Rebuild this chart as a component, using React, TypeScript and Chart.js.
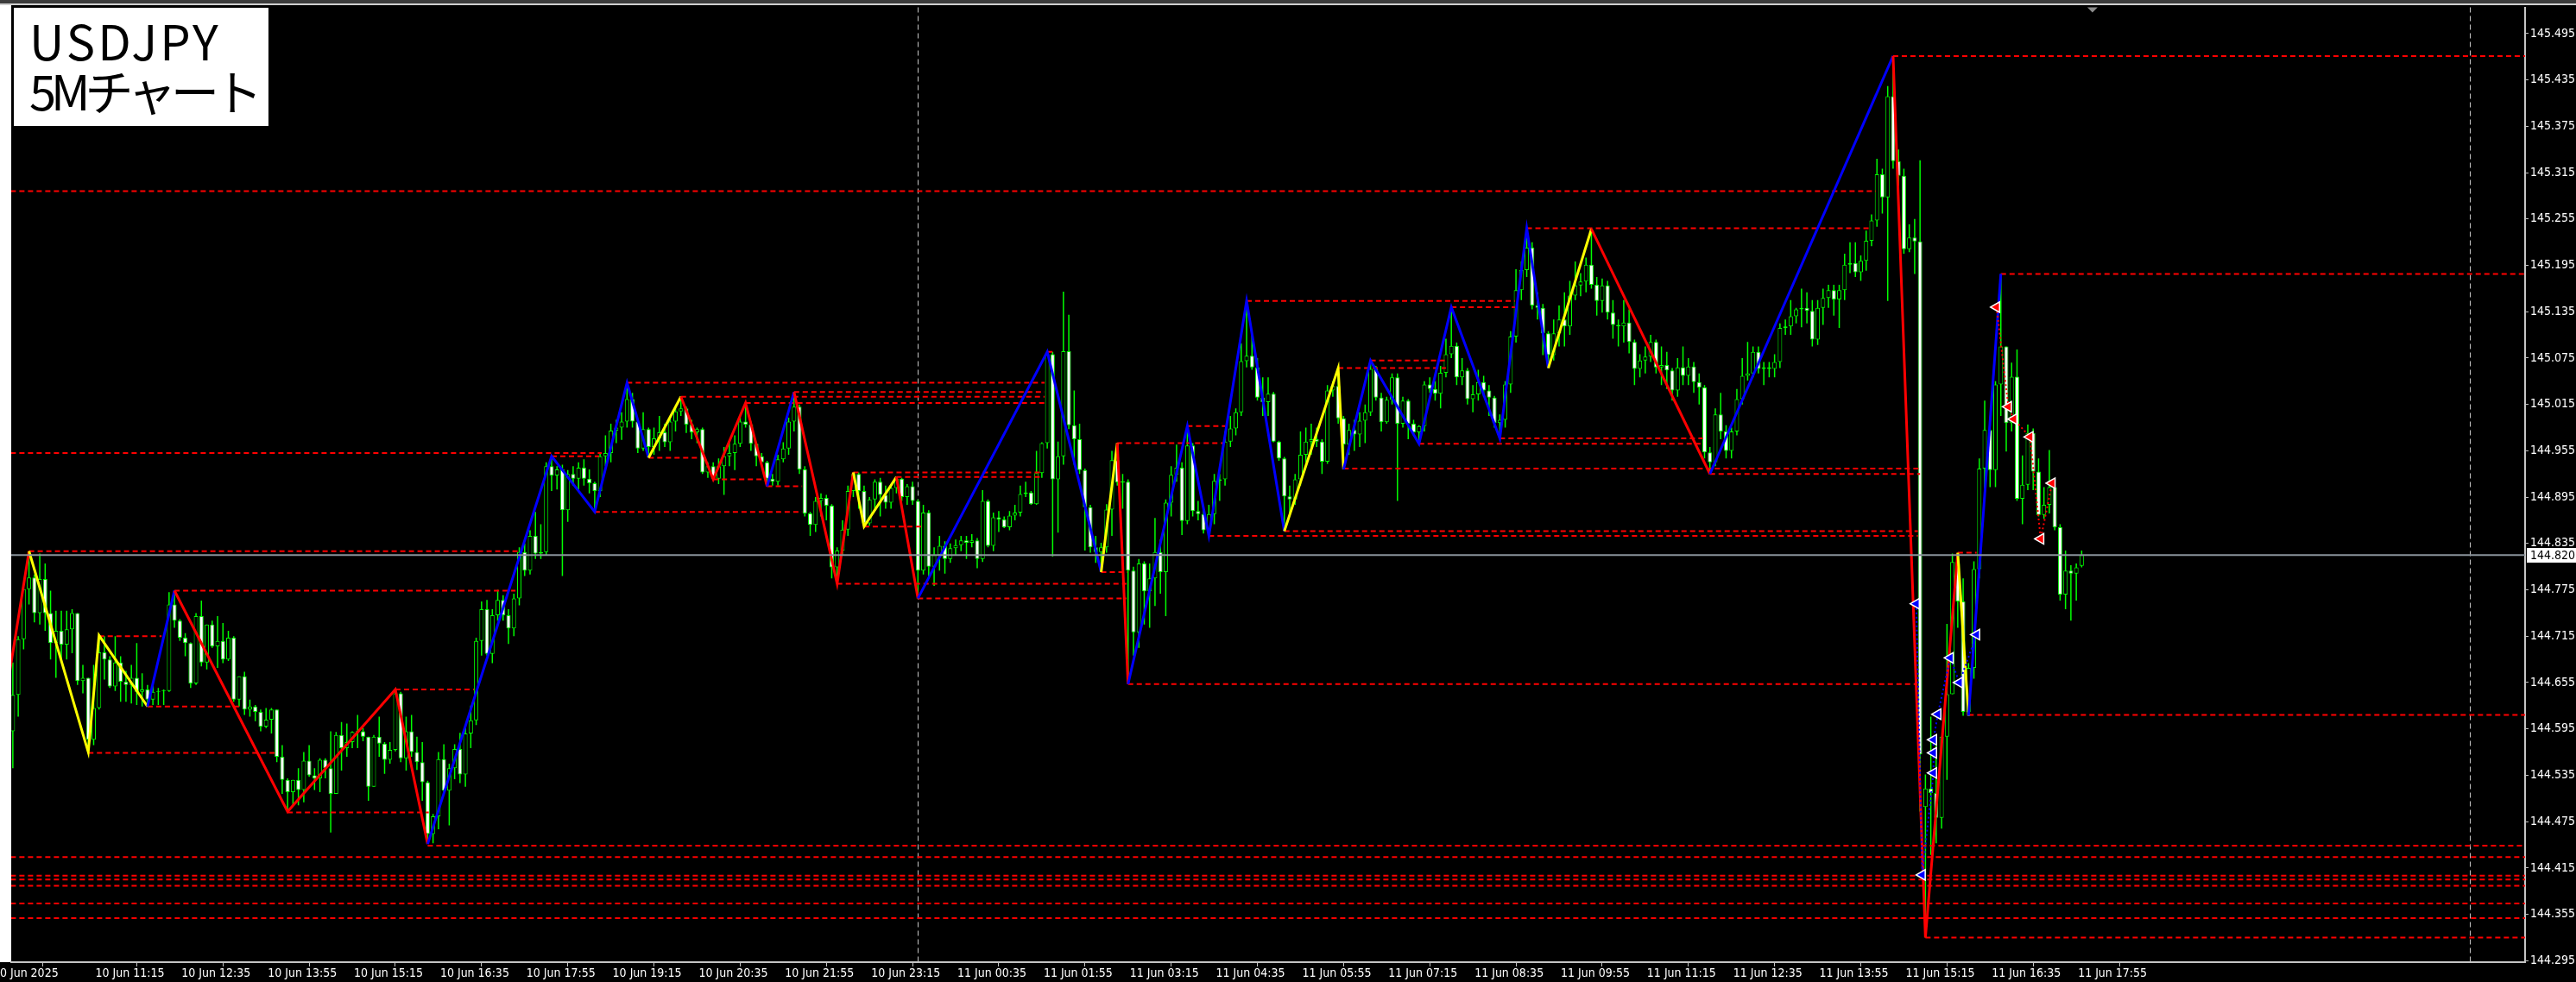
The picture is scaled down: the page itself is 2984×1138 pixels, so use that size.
import React, { useEffect, useRef } from "react";
import { Chart, registerables } from "chart.js";

Chart.register(...registerables);

const CANVAS_W = 2984;
const CANVAS_H = 1138;

// ---- USDJPY 5M candles, bar 0 = 10 Jun 10:00, bar 384 = 11 Jun 18:00 ----
const opens = [
  144.592,144.639,144.711,144.776,144.791,144.745,144.789,144.745,144.706,144.722,
  144.704,144.724,144.745,144.657,144.661,144.581,144.622,144.694,144.685,144.650,
  144.681,144.656,144.652,144.661,144.643,144.646,144.633,144.643,144.644,144.644,
  144.756,144.735,144.713,144.706,144.654,144.741,144.681,144.730,144.702,144.709,
  144.685,144.713,144.633,144.663,144.620,144.624,144.617,144.598,144.607,144.620,
  144.559,144.529,144.513,144.529,144.516,144.554,144.535,144.531,144.555,144.544,
  144.511,144.587,144.570,144.578,144.591,144.592,144.585,144.520,144.585,144.576,
  144.555,144.568,144.641,144.557,144.592,144.565,144.552,144.526,144.459,144.482,
  144.556,144.515,144.544,144.569,144.536,144.589,144.606,144.709,144.750,144.692,
  144.742,144.762,144.742,144.725,144.764,144.824,144.800,144.845,144.822,144.824,
  144.935,144.923,144.931,144.878,144.925,144.919,144.933,144.919,144.913,144.903,
  144.948,144.952,144.981,144.985,144.993,145.022,144.993,144.958,144.983,144.960,
  144.971,144.979,144.966,144.993,145.006,145.010,144.989,144.979,144.983,144.927,
  144.935,144.919,144.935,144.948,144.952,144.964,144.993,144.989,144.964,144.948,
  144.940,144.919,144.915,144.944,144.958,144.993,145.012,144.931,144.874,144.859,
  144.890,144.894,144.884,144.804,144.826,144.853,144.903,144.925,144.903,144.861,
  144.892,144.915,144.898,144.888,144.907,144.919,144.895,144.909,144.890,144.800,
  144.875,144.805,144.820,144.832,144.815,144.829,144.833,144.839,144.836,144.839,
  144.815,144.890,144.832,144.869,144.866,144.856,144.871,144.875,144.899,144.901,
  144.886,144.926,144.965,145.080,144.918,144.948,145.084,144.988,144.970,144.930,
  144.882,144.830,144.824,144.830,144.879,144.943,144.914,144.915,144.800,144.720,
  144.809,144.773,144.790,144.824,144.798,144.888,144.924,144.933,144.864,144.962,
  144.877,144.873,144.852,144.873,144.916,144.918,144.967,144.984,145.005,145.071,
  145.078,145.063,145.024,145.018,145.029,144.967,144.945,144.896,144.892,144.918,
  144.950,144.967,144.970,144.967,144.941,145.033,145.039,144.997,144.963,144.982,
  144.976,144.994,145.005,145.061,145.024,144.992,145.021,145.050,144.990,145.020,
  144.990,144.979,144.987,145.041,145.035,145.029,145.056,145.080,145.091,145.050,
  145.059,145.022,145.028,145.044,145.033,145.024,144.991,144.995,145.041,145.103,
  145.163,145.189,145.218,145.143,145.140,145.107,145.079,145.107,145.125,145.116,
  145.156,145.169,145.174,145.196,145.170,145.149,145.169,145.134,145.118,145.116,
  145.121,145.096,145.061,145.072,145.077,145.096,145.063,145.066,145.059,145.033,
  145.063,145.052,145.064,145.044,145.037,144.953,144.940,145.002,144.980,144.955,
  144.980,145.022,145.052,145.055,145.083,145.061,145.063,145.061,145.070,145.114,
  145.116,145.129,145.138,145.140,145.136,145.099,145.140,145.153,145.163,145.151,
  145.163,145.196,145.198,145.186,145.201,145.227,145.253,145.313,145.283,145.414,
  145.330,145.311,145.216,145.231,145.226,144.494,144.518,144.512,144.480,144.585,
  144.640,144.811,144.760,144.617,144.674,144.802,144.932,144.982,144.930,145.041,
  145.090,144.991,145.051,144.893,144.911,144.978,144.928,144.872,144.885,144.908,
  144.856,144.769,144.800,144.796,144.806,
];
const highs = [
  144.681,144.715,144.778,144.824,144.795,144.822,144.809,144.774,144.748,144.748,
  144.748,144.750,144.745,144.678,144.661,144.678,144.716,144.715,144.689,144.715,
  144.689,144.670,144.678,144.706,144.667,144.652,144.652,144.648,144.646,144.772,
  144.774,144.737,144.719,144.707,144.745,144.761,144.730,144.735,144.741,144.732,
  144.722,144.715,144.663,144.669,144.633,144.626,144.620,144.622,144.622,144.620,
  144.574,144.531,144.529,144.544,144.565,144.574,144.544,144.557,144.557,144.592,
  144.591,144.604,144.602,144.592,144.613,144.596,144.585,144.587,144.611,144.578,
  144.578,144.646,144.643,144.611,144.613,144.585,144.578,144.528,144.485,144.565,
  144.575,144.550,144.575,144.590,144.600,144.625,144.713,144.760,144.762,144.750,
  144.775,144.768,144.750,144.770,144.830,144.835,144.852,144.876,144.860,144.940,
  144.948,144.935,144.937,144.930,144.935,144.940,144.944,144.931,144.915,144.952,
  144.975,144.990,144.995,145.005,145.043,145.030,144.995,145.005,144.985,144.985,
  145.000,144.990,145.000,145.012,145.025,145.012,144.995,144.985,144.985,144.940,
  144.940,144.945,144.960,144.965,144.975,145.000,145.017,144.993,144.966,144.952,
  144.942,144.925,144.950,144.966,144.998,145.031,145.015,144.935,144.876,144.895,
  144.900,144.898,144.886,144.830,144.865,144.910,144.927,144.927,144.910,144.895,
  144.918,144.920,144.910,144.912,144.921,144.920,144.912,144.915,144.892,144.885,
  144.878,144.830,144.845,144.838,144.835,144.840,144.845,144.845,144.847,144.842,
  144.904,144.892,144.875,144.877,144.870,144.877,144.885,144.910,144.915,144.903,
  144.955,144.966,145.083,145.083,144.967,145.161,145.131,145.033,144.990,144.932,
  144.885,144.845,144.836,144.886,144.955,144.965,144.925,144.918,144.805,144.815,
  144.812,144.809,144.868,144.840,144.892,144.935,144.963,144.940,144.987,144.965,
  144.890,144.880,144.885,144.925,144.925,144.980,145.000,145.010,145.094,145.149,
  145.105,145.075,145.050,145.050,145.031,144.968,144.947,144.910,144.925,144.980,
  144.985,144.990,144.985,144.970,145.040,145.045,145.062,145.000,144.990,144.995,
  145.005,145.015,145.072,145.065,145.030,145.025,145.055,145.055,145.025,145.022,
  144.995,144.988,145.045,145.050,145.045,145.065,145.100,145.141,145.095,145.075,
  145.062,145.040,145.060,145.052,145.040,145.026,145.002,145.045,145.110,145.190,
  145.200,145.243,145.225,145.160,145.145,145.110,145.125,145.143,145.160,145.175,
  145.200,145.185,145.205,145.242,145.180,145.178,145.175,145.150,145.125,145.150,
  145.138,145.099,145.080,145.090,145.105,145.099,145.090,145.083,145.062,145.075,
  145.090,145.075,145.070,145.055,145.040,144.960,145.010,145.030,144.988,144.985,
  145.035,145.075,145.096,145.090,145.090,145.070,145.070,145.080,145.120,145.125,
  145.150,145.140,145.165,145.160,145.150,145.150,145.165,145.170,145.170,145.170,
  145.210,145.225,145.225,145.208,145.240,145.261,145.333,145.320,145.427,145.466,
  145.345,145.320,145.248,145.255,145.331,144.536,144.611,144.585,144.585,144.731,
  144.822,144.823,144.790,144.680,144.812,144.945,145.020,144.985,145.045,145.184,
  145.090,145.069,145.086,144.949,144.989,144.984,144.945,144.908,144.956,144.913,
  144.860,144.826,144.807,144.809,144.826,
];
const lows = [
  144.544,144.611,144.698,144.756,144.733,144.730,144.722,144.685,144.661,144.681,
  144.685,144.693,144.652,144.641,144.565,144.574,144.620,144.659,144.648,144.644,
  144.630,144.630,144.628,144.626,144.624,144.624,144.626,144.626,144.626,144.643,
  144.726,144.709,144.689,144.648,144.652,144.676,144.672,144.700,144.674,144.680,
  144.683,144.630,144.624,144.613,144.611,144.605,144.592,144.596,144.589,144.552,
  144.511,144.488,144.496,144.496,144.500,144.533,144.516,144.513,144.531,144.461,
  144.511,144.541,144.559,144.570,144.570,144.579,144.502,144.520,144.559,144.537,
  144.550,144.566,144.552,144.541,144.559,144.542,144.502,144.446,144.447,144.465,
  144.510,144.470,144.530,144.525,144.520,144.570,144.600,144.690,144.690,144.680,
  144.735,144.735,144.705,144.715,144.755,144.793,144.795,144.815,144.815,144.820,
  144.903,144.905,144.793,144.863,144.910,144.905,144.910,144.900,144.876,144.895,
  144.935,144.940,144.965,144.969,144.985,144.985,144.952,144.955,144.946,144.950,
  144.955,144.960,144.955,144.980,145.000,144.978,144.970,144.965,144.925,144.920,
  144.918,144.912,144.898,144.935,144.930,144.960,144.985,144.955,144.935,144.935,
  144.909,144.910,144.910,144.940,144.950,144.980,144.925,144.870,144.845,144.850,
  144.870,144.865,144.790,144.783,144.820,144.845,144.895,144.880,144.857,144.858,
  144.880,144.870,144.880,144.880,144.900,144.890,144.885,144.885,144.764,144.795,
  144.790,144.780,144.800,144.796,144.810,144.820,144.825,144.815,144.830,144.803,
  144.811,144.830,144.825,144.850,144.855,144.852,144.865,144.870,144.895,144.885,
  144.885,144.920,144.958,144.818,144.849,144.937,144.983,144.937,144.925,144.826,
  144.823,144.810,144.798,144.823,144.845,144.910,144.880,144.653,144.690,144.700,
  144.730,144.726,144.754,144.770,144.741,144.870,144.915,144.846,144.860,144.870,
  144.865,144.848,144.845,144.860,144.890,144.910,144.960,144.975,145.000,145.063,
  145.060,145.020,145.000,145.000,144.966,144.942,144.851,144.870,144.885,144.910,
  144.940,144.950,144.960,144.925,144.938,145.025,144.990,144.931,144.950,144.955,
  144.960,144.965,145.000,145.020,144.980,144.990,145.015,144.890,144.985,144.970,
  144.975,144.964,144.980,145.030,145.020,145.010,145.050,145.075,145.040,145.040,
  145.015,145.005,145.020,145.025,145.000,144.985,144.971,144.985,145.030,145.095,
  145.150,145.180,145.138,145.125,145.079,145.062,145.072,145.090,145.090,145.105,
  145.150,145.155,145.160,145.165,145.130,145.134,145.125,145.100,145.090,145.095,
  145.081,145.040,145.050,145.055,145.070,145.055,145.040,145.035,145.020,145.025,
  145.040,145.040,145.030,145.015,144.945,144.925,144.935,144.970,144.945,144.945,
  144.975,145.015,145.046,145.050,145.055,145.040,145.050,145.050,145.062,145.105,
  145.105,145.120,145.115,145.120,145.090,145.092,145.118,145.140,145.130,145.114,
  145.150,145.185,145.180,145.175,145.188,145.220,145.245,145.262,145.149,145.320,
  145.279,145.210,145.212,145.184,144.488,144.325,144.432,144.447,144.466,144.529,
  144.640,144.726,144.612,144.612,144.660,144.790,144.900,144.908,144.908,145.000,
  144.954,144.980,144.890,144.860,144.904,144.904,144.870,144.867,144.874,144.852,
  144.761,144.750,144.735,144.761,144.804,
];
const closes = [
  144.639,144.711,144.776,144.791,144.745,144.789,144.745,144.706,144.722,144.704,
  144.724,144.745,144.657,144.661,144.581,144.622,144.694,144.685,144.650,144.681,
  144.656,144.652,144.661,144.643,144.646,144.633,144.643,144.644,144.644,144.756,
  144.735,144.713,144.706,144.654,144.741,144.681,144.730,144.702,144.709,144.685,
  144.713,144.633,144.663,144.620,144.624,144.617,144.598,144.607,144.620,144.559,
  144.529,144.513,144.529,144.516,144.554,144.535,144.531,144.555,144.544,144.511,
  144.587,144.570,144.578,144.591,144.592,144.585,144.520,144.585,144.576,144.555,
  144.568,144.641,144.557,144.592,144.565,144.552,144.526,144.459,144.482,144.556,
  144.515,144.544,144.569,144.536,144.589,144.606,144.709,144.750,144.692,144.742,
  144.762,144.742,144.725,144.764,144.824,144.800,144.845,144.822,144.824,144.935,
  144.923,144.931,144.878,144.925,144.919,144.933,144.919,144.913,144.903,144.948,
  144.952,144.981,144.985,144.993,145.022,144.993,144.958,144.983,144.960,144.971,
  144.979,144.966,144.993,145.006,145.010,144.989,144.979,144.983,144.927,144.935,
  144.919,144.935,144.948,144.952,144.964,144.993,144.989,144.964,144.948,144.940,
  144.919,144.915,144.944,144.958,144.993,145.012,144.931,144.874,144.859,144.890,
  144.894,144.884,144.804,144.826,144.853,144.903,144.925,144.903,144.861,144.892,
  144.915,144.898,144.888,144.907,144.919,144.895,144.909,144.890,144.800,144.875,
  144.805,144.820,144.832,144.815,144.829,144.833,144.839,144.836,144.839,144.815,
  144.890,144.832,144.869,144.866,144.856,144.871,144.875,144.899,144.901,144.886,
  144.926,144.965,145.080,144.918,144.948,145.084,144.988,144.970,144.930,144.882,
  144.830,144.824,144.830,144.879,144.943,144.914,144.915,144.800,144.720,144.809,
  144.773,144.790,144.824,144.798,144.888,144.924,144.933,144.864,144.962,144.877,
  144.873,144.852,144.873,144.916,144.918,144.967,144.984,145.005,145.071,145.078,
  145.063,145.024,145.018,145.029,144.967,144.945,144.896,144.892,144.918,144.950,
  144.967,144.970,144.967,144.941,145.033,145.039,144.997,144.963,144.982,144.976,
  144.994,145.005,145.061,145.024,144.992,145.021,145.050,144.990,145.020,144.990,
  144.979,144.987,145.041,145.035,145.029,145.056,145.080,145.091,145.050,145.059,
  145.022,145.028,145.044,145.033,145.024,144.991,144.995,145.041,145.103,145.163,
  145.189,145.218,145.143,145.140,145.107,145.079,145.107,145.125,145.116,145.156,
  145.169,145.174,145.196,145.170,145.149,145.169,145.134,145.118,145.116,145.121,
  145.096,145.061,145.072,145.077,145.096,145.063,145.066,145.059,145.033,145.063,
  145.052,145.064,145.044,145.037,144.953,144.940,145.002,144.980,144.955,144.980,
  145.022,145.052,145.055,145.083,145.061,145.063,145.061,145.070,145.114,145.116,
  145.129,145.138,145.140,145.136,145.099,145.140,145.153,145.163,145.151,145.163,
  145.196,145.198,145.186,145.201,145.227,145.253,145.313,145.283,145.414,145.330,
  145.311,145.216,145.231,145.226,144.562,144.518,144.512,144.480,144.585,144.640,
  144.811,144.760,144.617,144.674,144.802,144.932,144.982,144.930,145.041,145.090,
  144.991,145.051,144.893,144.911,144.978,144.928,144.872,144.885,144.908,144.856,
  144.769,144.800,144.796,144.804,144.820,
];

// ---- ZigZag pivots (bar, price) and colour of the leg ending at each pivot ----
const pivotBars = [-3, 3, 14, 16, 25, 30, 51, 71, 77, 100, 108, 114, 118, 124, 130, 136, 140, 145, 153, 156, 158, 164, 168, 192, 202, 205, 207, 218, 222, 229, 236, 246, 247, 252, 261, 267, 276, 281, 285, 293, 315, 349, 355, 361, 363, 369];
const pivotPrices = [144.563, 144.825, 144.565, 144.716, 144.624, 144.774, 144.488, 144.646, 144.446, 144.948, 144.876, 145.043, 144.946, 145.025, 144.918, 145.017, 144.909, 145.031, 144.783, 144.927, 144.857, 144.921, 144.764, 145.083, 144.798, 144.965, 144.653, 144.987, 144.845, 145.149, 144.851, 145.062, 144.931, 145.072, 144.964, 145.141, 144.971, 145.243, 145.062, 145.242, 144.925, 145.466, 144.325, 144.823, 144.612, 145.184];
const pivotColors = ["#ff0000", "#ff0000", "#ffff00", "#ffff00", "#ffff00", "#0000ff", "#ff0000", "#ff0000", "#ff0000", "#0000ff", "#0000ff", "#0000ff", "#0000ff", "#ffff00", "#ff0000", "#ff0000", "#ff0000", "#0000ff", "#ff0000", "#ff0000", "#ffff00", "#ffff00", "#ff0000", "#0000ff", "#0000ff", "#ffff00", "#ff0000", "#0000ff", "#0000ff", "#0000ff", "#0000ff", "#ffff00", "#ffff00", "#0000ff", "#0000ff", "#0000ff", "#0000ff", "#0000ff", "#0000ff", "#ffff00", "#ff0000", "#0000ff", "#ff0000", "#ff0000", "#ffff00", "#0000ff"];

// ---- dashed support / resistance levels ----
const levelPrices = [145.466,145.291,145.243,145.184,145.149,145.141,145.072,145.062,145.083,145.043,145.031,145.025,145.017,144.987,144.971,144.965,144.964,144.952,144.948,144.946,144.932,144.927,144.925,144.921,144.918,144.909,144.876,144.857,144.851,144.845,144.825,144.823,144.798,144.783,144.774,144.764,144.715,144.653,144.646,144.624,144.613,144.564,144.487,144.444,144.429,144.405,144.400,144.392,144.369,144.350,144.325];
const levelStartBars = [349,-2,281,369,229,267,252,246,192,114,145,124,136,218,276,205,261,-2,100,118,247,156,315,164,130,140,108,158,236,222,3,361,202,153,30,168,16,207,71,25,363,14,51,77,-2,-2,-2,-2,-2,-2,355];
const levelEndBars = [470,345.8,344.8,470,278.8,278.8,266,266,193.6,191.5,191.5,191.5,191.5,225,313.7,224.8,313.7,109.3,108.8,127.7,354,190.7,354,190.7,139.7,146.5,146.5,168.6,353.6,353.6,94.5,364.5,206.9,206.7,93.3,206.7,27.6,353.3,85.6,42,470,48.9,77.2,470,470,470,470,470,470,470,470];

// ---- signal arrows (joined by dotted trails) ----
const blueArrowBars = [353.3, 354.4, 356.5, 356.5, 356.5, 357.3, 359.6, 361.3, 364.5];
const blueArrowPrices = [144.757, 144.406, 144.538, 144.564, 144.581, 144.614, 144.687, 144.655, 144.717];
const redArrowBars = [368.2, 370.4, 371.4, 374.4, 376.4, 378.5];
const redArrowPrices = [145.141, 145.012, 144.996, 144.973, 144.841, 144.913];

// ---- axes ----
const priceTicks = [144.295,144.355,144.415,144.475,144.535,144.595,144.655,144.715,144.775,144.835,144.895,144.955,145.015,145.075,145.135,145.195,145.255,145.315,145.375,145.435,145.495];
const timeTickBars = [-4.0, 15, 31, 47, 63, 79, 95, 111, 127, 143, 159, 175, 191, 207, 223, 239, 255, 271, 287, 303, 319, 335, 351, 367, 383];
const timeTickLabels = ["10 Jun 2025","10 Jun 11:15","10 Jun 12:35","10 Jun 13:55","10 Jun 15:15","10 Jun 16:35","10 Jun 17:55","10 Jun 19:15","10 Jun 20:35","10 Jun 21:55","10 Jun 23:15","11 Jun 00:35","11 Jun 01:55","11 Jun 03:15","11 Jun 04:35","11 Jun 05:55","11 Jun 07:15","11 Jun 08:35","11 Jun 09:55","11 Jun 11:15","11 Jun 12:35","11 Jun 13:55","11 Jun 15:15","11 Jun 16:35","11 Jun 17:55"];
const separatorBars = [168, 456];
const lastPrice = 144.82;
const shiftMarkerBar = 386;
const xMin = -0.3;
const xMax = 466.3;
const yMin = 144.2931;
const yMax = 145.529;

export default function App() {
  const canvasRef = useRef<HTMLCanvasElement | null>(null);

  useEffect(() => {
    const canvas = canvasRef.current;
    if (!canvas) return;
    const candleGreen = "#00ff00";
    const axisGray = "#c4c4c4";
    const fontFam = "'DejaVu Sans Condensed', 'DejaVu Sans', sans-serif";

    const wickData = highs.map((h, i) => ({ x: i, y: [lows[i], h] }));
    const bodyData = opens.map((o, i) => ({ x: i, y: [o, closes[i]] }));
    const bodyColors = opens.map((o, i) => (closes[i] < o ? "#ffffff" : "#000000"));

    const levelDatasets = levelPrices.map((p, k) => ({
      type: "line",
      data: [
        { x: levelStartBars[k], y: p },
        { x: levelEndBars[k], y: p },
      ],
      borderColor: "#ff0000",
      borderWidth: 2,
      borderDash: [6, 4],
      pointRadius: 0,
      order: 8,
    }));

    const zigData = pivotBars.map((b, i) => ({ x: b, y: pivotPrices[i] }));

    const arrowSet = (bars: number[], prices: number[], color: string) => ({
      type: "line",
      data: bars.map((b, i) => ({ x: b, y: prices[i] })),
      borderColor: color,
      borderWidth: 2,
      borderDash: [2, 3],
      pointStyle: "triangle",
      pointRotation: -90,
      pointRadius: 7,
      pointBackgroundColor: color,
      pointBorderColor: "#ffffff",
      pointBorderWidth: 1.5,
      order: 4,
    });

    const bgPlugin = {
      id: "mtBackground",
      beforeDraw(chart: any) {
        const { ctx, width, height, chartArea } = chart;
        ctx.save();
        ctx.fillStyle = "#000000";
        ctx.fillRect(0, 0, width, height);
        ctx.fillStyle = "#ffffff";
        ctx.fillRect(0, 5, chartArea.left, chartArea.bottom - 5);
        ctx.fillStyle = "#3c3c3c";
        ctx.fillRect(0, 0, width, 4);
        ctx.fillStyle = "#d0d0d0";
        ctx.fillRect(0, 4, width, 2);
        ctx.restore();
      },
    };

    const separatorPlugin = {
      id: "mtSeparators",
      beforeDatasetsDraw(chart: any) {
        const { ctx, chartArea, scales } = chart;
        ctx.save();
        ctx.strokeStyle = "#c8c8c8";
        ctx.lineWidth = 1;
        ctx.setLineDash([6, 4]);
        separatorBars.forEach((b) => {
          const x = Math.round(scales.x.getPixelForValue(b)) + 0.5;
          ctx.beginPath();
          ctx.moveTo(x, chartArea.top);
          ctx.lineTo(x, chartArea.bottom);
          ctx.stroke();
        });
        ctx.restore();
      },
    };

    const tagPlugin = {
      id: "mtPriceTag",
      afterDraw(chart: any) {
        const { ctx, chartArea, scales, width } = chart;
        const y = scales.y.getPixelForValue(lastPrice);
        ctx.save();
        ctx.fillStyle = "#ffffff";
        ctx.fillRect(chartArea.right + 2, Math.round(y) - 8, width - chartArea.right - 2, 17);
        ctx.fillStyle = "#000000";
        ctx.font = `14px ${fontFam}`;
        ctx.textBaseline = "middle";
        ctx.textAlign = "left";
        ctx.fillText(lastPrice.toFixed(3), chartArea.right + 6, Math.round(y) + 1);
        const sx = scales.x.getPixelForValue(shiftMarkerBar);
        ctx.fillStyle = "#8c8c8c";
        ctx.beginPath();
        ctx.moveTo(sx - 6, chartArea.top);
        ctx.lineTo(sx + 6, chartArea.top);
        ctx.lineTo(sx, chartArea.top + 6);
        ctx.closePath();
        ctx.fill();
        ctx.restore();
      },
    };

    const chart = new Chart(canvas, {
      type: "bar",
      data: {
        datasets: [
          {
            type: "bar",
            data: wickData,
            backgroundColor: candleGreen,
            borderWidth: 0,
            barThickness: 1.5,
            grouped: false,
            inflateAmount: 0,
            order: 11,
          },
          {
            type: "bar",
            data: bodyData,
            backgroundColor: bodyColors,
            borderColor: candleGreen,
            borderWidth: 1,
            borderSkipped: false,
            barThickness: 5,
            minBarLength: 1,
            grouped: false,
            inflateAmount: 0,
            order: 10,
          },
          ...levelDatasets,
          {
            type: "line",
            data: zigData,
            borderColor: "#ff0000",
            borderWidth: 3,
            pointRadius: 0,
            tension: 0,
            segment: { borderColor: (c: any) => pivotColors[c.p1DataIndex] },
            order: 6,
          },
          arrowSet(blueArrowBars, blueArrowPrices, "#0000ff"),
          arrowSet(redArrowBars, redArrowPrices, "#ff0000"),
          {
            type: "line",
            data: [
              { x: xMin, y: lastPrice },
              { x: xMax, y: lastPrice },
            ],
            borderColor: "#8a939b",
            borderWidth: 2,
            pointRadius: 0,
            order: 1,
          },
        ] as any,
      },
      options: {
        responsive: false,
        maintainAspectRatio: false,
        animation: false,
        devicePixelRatio: 1,
        events: [],
        layout: { padding: { left: 13, top: 6, right: 0, bottom: 0 } },
        plugins: { legend: { display: false }, tooltip: { enabled: false } },
        scales: {
          x: {
            type: "linear",
            min: xMin,
            max: xMax,
            offset: false,
            afterBuildTicks: (s: any) => {
              s.ticks = timeTickBars.map((v) => ({ value: v }));
            },
            afterFit: (s: any) => {
              s.height = 23;
              s.paddingLeft = 0;
              s.paddingRight = 0;
            },
            grid: { display: true, drawOnChartArea: false, drawTicks: true, tickLength: 5, color: axisGray, lineWidth: 1 },
            border: { display: true, color: axisGray, width: 2 },
            ticks: {
              autoSkip: false,
              maxRotation: 0,
              minRotation: 0,
              align: "start",
              labelOffset: 2,
              padding: 0,
              color: "#ffffff",
              font: { family: fontFam, size: 14 },
              callback: (_v: any, i: number) => timeTickLabels[i],
            },
          },
          y: {
            type: "linear",
            position: "right",
            min: yMin,
            max: yMax,
            afterBuildTicks: (s: any) => {
              s.ticks = priceTicks.map((v) => ({ value: v }));
            },
            afterFit: (s: any) => {
              s.width = 59;
              s.paddingTop = 0;
              s.paddingBottom = 0;
            },
            grid: { display: true, drawOnChartArea: false, drawTicks: true, tickLength: 4, color: axisGray },
            border: { display: true, color: axisGray, width: 2 },
            ticks: {
              color: "#ffffff",
              padding: 2,
              font: { family: fontFam, size: 14 },
              callback: (v: any) => Number(v).toFixed(3),
            },
          },
        },
      } as any,
      plugins: [bgPlugin, separatorPlugin, tagPlugin],
    });
    return () => chart.destroy();
  }, []);

  return (
    <div style={{ position: "fixed", left: 0, top: 0, width: CANVAS_W, height: CANVAS_H, background: "#000" }}>
      <canvas ref={canvasRef} width={CANVAS_W} height={CANVAS_H} style={{ display: "block", width: CANVAS_W, height: CANVAS_H }} />
      <div
        style={{
          position: "absolute",
          left: 16,
          top: 9,
          width: 295,
          height: 137,
          boxSizing: "border-box",
          background: "#ffffff",
          color: "#000000",
          fontFamily: '"Noto Sans CJK JP", sans-serif',
          fontSize: 56,
          lineHeight: "58px",
          paddingLeft: 18,
          paddingTop: 8,
          whiteSpace: "nowrap",
          overflow: "hidden",
        }}
      >
        <div style={{ letterSpacing: 3 }}>USDJPY</div>
        <div style={{ letterSpacing: -6 }}>5Mチャート</div>
      </div>
    </div>
  );
}
